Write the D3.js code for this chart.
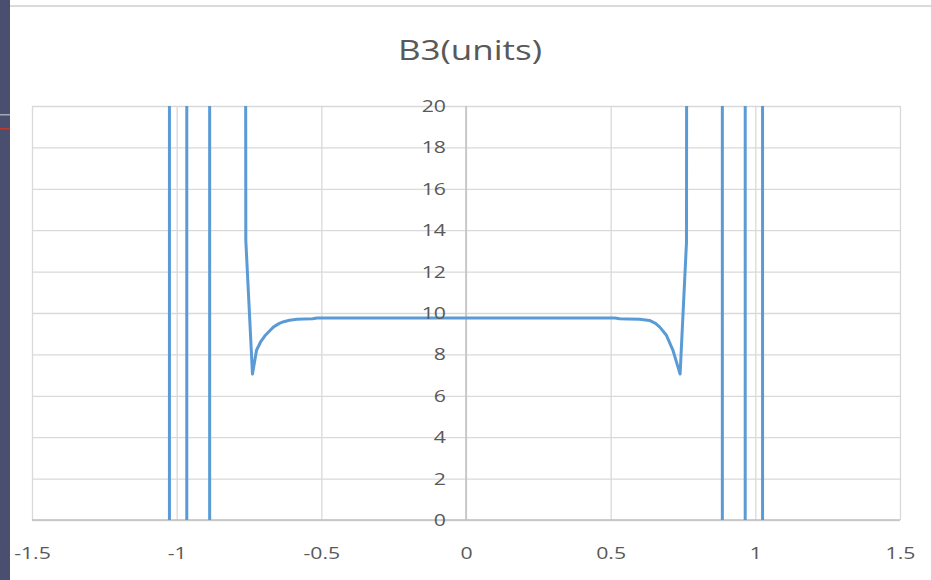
<!DOCTYPE html>
<html>
<head>
<meta charset="utf-8">
<script src="https://cdn.jsdelivr.net/npm/d3@7"></script>
<style>
  html, body { margin: 0; padding: 0; background: #ffffff; }
  svg { display: block; }
  text { font-family: "Open Sans", "Noto Sans", sans-serif; fill: #595959; }
</style>
</head>
<body>
<svg id="chart" width="931" height="580"></svg>
<script>
// Position along the aperture (x) and the B3 multipole value at each position.
const positions = [
  -1.5, -1.4, -1.3, -1.2, -1.1, -1.05, -1.037, -1.013, -0.99, -0.977, -0.953,
  -0.92, -0.898, -0.874, -0.85, -0.82, -0.79, -0.761, -0.738, -0.724, -0.71,
  -0.695, -0.68, -0.665, -0.645, -0.63, -0.61, -0.584, -0.56, -0.53, -0.515,
  -0.4, -0.3, -0.2, -0.1, 0, 0.1, 0.2, 0.3, 0.4, 0.515,
  0.531, 0.56, 0.6, 0.634, 0.655, 0.669, 0.692, 0.715, 0.74, 0.762,
  0.79, 0.82, 0.85, 0.874, 0.898, 0.92, 0.953, 0.977, 1.0, 1.013,
  1.037, 1.05, 1.1, 1.2, 1.3, 1.4, 1.5
];
const b3Values = [
  -120, -180, -300, -600, -1500, -4000, -6000, 6000, 8000, 6000, -6000,
  -8000, -6000, 6000, 3000, 900, 400, 13.5, 7.05, 8.2, 8.6,
  8.9, 9.12, 9.33, 9.5, 9.58, 9.65, 9.7, 9.71, 9.72, 9.76,
  9.76, 9.76, 9.76, 9.76, 9.76, 9.76, 9.76, 9.76, 9.76, 9.76,
  9.72, 9.71, 9.7, 9.64, 9.5, 9.33, 8.94, 8.21, 7.05, 13.4,
  400, 900, 3000, 6000, -6000, -8000, -6000, 6000, 8000, 6000,
  -6000, -4000, -1500, -600, -300, -180, -120
];
const xTicks = [-1.5, -1, -0.5, 0, 0.5, 1, 1.5];
const yTicks = [0, 2, 4, 6, 8, 10, 12, 14, 16, 18, 20];
const chartTitle = "B3(units)";

const svg = d3.select("#chart");
const W = 931, H = 580;
const plot = { left: 32, right: 900, top: 106, bottom: 520 };
const stretch = 1.25; // horizontal text scale

// Surrounding window frame
svg.append("rect").attr("x", 0).attr("y", 0).attr("width", 10).attr("height", H).attr("fill", "#4b4f6f");
svg.append("rect").attr("x", 0).attr("y", 114).attr("width", 10).attr("height", 1.5).attr("fill", "#a4a6b8");
svg.append("rect").attr("x", 0).attr("y", 128).attr("width", 10).attr("height", 1.5).attr("fill", "#c0392b");
svg.append("rect").attr("x", 10).attr("y", 5).attr("width", W - 10).attr("height", 2).attr("fill", "#dadada");

const x = d3.scaleLinear().domain([-1.5, 1.5]).range([plot.left, plot.right]);
const y = d3.scaleLinear().domain([0, 20]).range([plot.bottom, plot.top]);

// Gridlines
const gx = svg.append("g")
  .attr("transform", `translate(0,${plot.bottom})`)
  .call(d3.axisBottom(x).tickValues(xTicks).tickSize(-(plot.bottom - plot.top)).tickFormat(""));
gx.select(".domain").remove();
gx.selectAll("line").attr("stroke", "#d9d9d9").attr("stroke-width", 1.3);

const gy = svg.append("g")
  .attr("transform", `translate(${plot.left},0)`)
  .call(d3.axisLeft(y).tickValues(yTicks).tickSize(-(plot.right - plot.left)).tickFormat(""));
gy.select(".domain").remove();
gy.selectAll("line").attr("stroke", "#d9d9d9").attr("stroke-width", 1.3);

// Axis lines: x axis along the bottom, y axis crossing at x = 0
svg.append("line")
  .attr("x1", plot.left).attr("x2", plot.right)
  .attr("y1", y(0)).attr("y2", y(0))
  .attr("stroke", "#bfbfbf").attr("stroke-width", 1.5);
svg.append("line")
  .attr("x1", x(0)).attr("x2", x(0))
  .attr("y1", plot.top).attr("y2", plot.bottom)
  .attr("stroke", "#bfbfbf").attr("stroke-width", 1.5);

// Data series, clipped to the plot area
svg.append("clipPath").attr("id", "plot-clip")
  .append("rect")
  .attr("x", plot.left).attr("y", plot.top)
  .attr("width", plot.right - plot.left).attr("height", plot.bottom - plot.top);

const points = positions.map((p, i) => [p, b3Values[i]]);
const line = d3.line().x(d => x(d[0])).y(d => y(d[1]));
svg.append("path")
  .datum(points)
  .attr("clip-path", "url(#plot-clip)")
  .attr("d", line)
  .attr("fill", "none")
  .attr("stroke", "#5b9bd5")
  .attr("stroke-width", 3)
  .attr("stroke-linejoin", "round");

// Tick labels
const xLab = svg.append("g")
  .attr("transform", `translate(0,${plot.bottom})`)
  .call(d3.axisBottom(x).tickValues(xTicks).tickSize(0).tickPadding(27).tickFormat(d => String(d)));
xLab.select(".domain").remove();
xLab.selectAll("text")
  .style("font-size", "17px")
  .attr("fill", "#595959")
  .attr("transform", `scale(${stretch},1)`);

const yPad = 20;
const yLab = svg.append("g")
  .attr("transform", `translate(${x(0)},0)`)
  .call(d3.axisLeft(y).tickValues(yTicks).tickSize(0).tickPadding(yPad).tickFormat(d => String(d)));
yLab.select(".domain").remove();
yLab.selectAll("text")
  .style("font-size", "17px")
  .attr("fill", "#595959")
  .attr("x", -yPad / stretch)
  .attr("transform", `scale(${stretch},1)`);

// Title
svg.append("text")
  .attr("transform", `translate(470,60) scale(${stretch},1)`)
  .attr("text-anchor", "middle")
  .style("font-size", "28px")
  .text(chartTitle);
</script>
</body>
</html>
